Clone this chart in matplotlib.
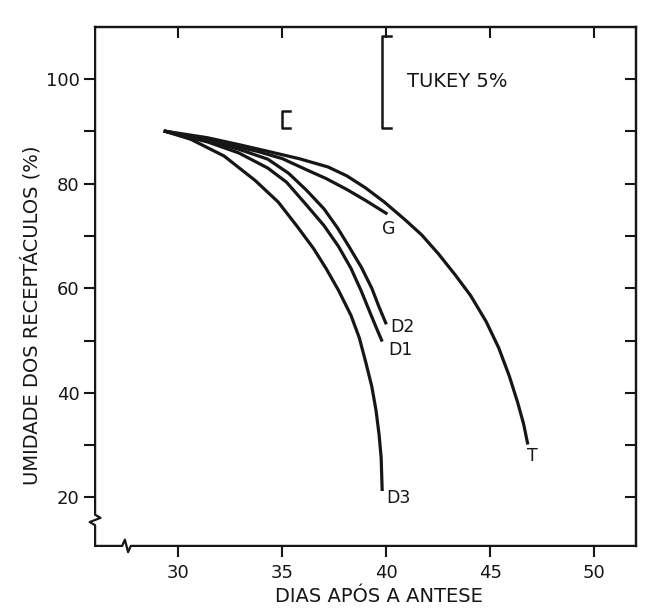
import matplotlib
matplotlib.use("Agg")
import matplotlib.pyplot as plt

# Umidade dos receptaculos (%) x dias apos a antese
d3_dias = [29.3, 30.6, 32.2, 33.7, 34.8, 35.7, 36.5, 37.1, 37.7, 38.3, 38.7, 39.0,
           39.3, 39.5, 39.65, 39.75, 39.8]
d3_umid = [90.1, 88.5, 85.3, 80.6, 76.5, 71.9, 67.6, 63.8, 59.6, 54.8, 50.5, 46.0,
           41.2, 36.7, 32.0, 27.6, 21.2]

d1_dias = [29.3, 31.4, 32.9, 34.3, 35.2, 36.1, 37.0, 37.7, 38.3, 38.8, 39.2, 39.5, 39.8]
d1_umid = [90.1, 88.0, 85.9, 83.0, 80.3, 76.2, 72.0, 68.0, 63.8, 59.4, 55.5, 52.6, 49.8]

d2_dias = [29.3, 31.4, 32.9, 34.3, 35.3, 36.15, 37.0, 37.66, 38.2, 38.8, 39.3, 39.65, 40.0]
d2_umid = [90.1, 88.2, 86.6, 84.7, 82.0, 78.8, 75.2, 71.5, 68.0, 64.0, 60.0, 56.4, 53.1]

g_dias = [29.3, 30.6, 32.2, 33.8, 35.0, 36.2, 37.1, 38.1, 39.0, 40.05]
g_umid = [90.1, 89.1, 87.6, 86.2, 84.8, 82.6, 81.0, 78.9, 76.8, 74.2]

t_dias = [29.3, 31.4, 33.0, 34.3, 35.8, 37.2, 38.1, 39.0, 39.9, 40.9, 41.7, 42.5,
          43.3, 44.05, 44.8, 45.4, 45.9, 46.3, 46.6, 46.8]
t_umid = [90.1, 88.8, 87.4, 86.2, 84.8, 83.2, 81.5, 79.2, 76.5, 73.1, 70.2, 66.6,
          62.6, 58.6, 53.6, 48.6, 43.3, 38.3, 34.0, 30.1]

curvas = [("D3", d3_dias, d3_umid), ("D1", d1_dias, d1_umid),
          ("D2", d2_dias, d2_umid), ("G", g_dias, g_umid), ("T", t_dias, t_umid)]

# posicao dos rotulos das curvas
rotulos = {"G": (40.1, 71.3, "center"), "D2": (40.2, 52.5, "left"),
           "D1": (40.1, 48.1, "left"), "D3": (40.0, 19.8, "left"),
           "T": (47.0, 27.9, "center")}

tukey_dia, tukey_ini, tukey_fim = 39.8, 90.6, 108.3
dms_dia, dms_ini, dms_fim = 35.0, 90.6, 93.9

fig = plt.figure(figsize=(6.47, 6.12), dpi=100)
ax = fig.add_axes([0.147, 0.108, 0.836, 0.848])
cor = "#161616"

for nome, dias, umid in curvas:
    ax.plot(dias, umid, color=cor, lw=2.3, solid_capstyle="butt", solid_joinstyle="round")
    x, y, ha = rotulos[nome]
    ax.text(x, y, nome, ha=ha, va="center", fontsize=12.5, color=cor)

# barras de Tukey
for dia, ini, fim, s in [(tukey_dia, tukey_ini, tukey_fim, 0.4), (dms_dia, dms_ini, dms_fim, 0.35)]:
    ax.plot([dia + s, dia, dia, dia + s], [fim, fim, ini, ini], color=cor, lw=1.8)
ax.text(41.0, 99.6, "TUKEY 5%", ha="left", va="center", fontsize=14, color=cor)

ax.set_xlim(26.0, 52.0)
ax.set_ylim(10.7, 110)
ax.set_xticks([30, 35, 40, 45, 50])
ax.set_yticks([20, 40, 60, 80, 100])
ax.set_yticks([30, 50, 70, 90], minor=True)
ax.tick_params(which="both", direction="out", length=8, width=1.5, labelsize=13, colors=cor)
ax.tick_params(axis="y", pad=3)
ax.tick_params(axis="x", pad=5)

topo = ax.secondary_xaxis("top")
topo.set_xticks([30, 35, 40, 45, 50])
topo.tick_params(direction="in", length=8, width=1.5, labeltop=False, colors=cor)
direita = ax.secondary_yaxis("right")
direita.set_yticks(list(range(20, 101, 10)))
direita.tick_params(direction="in", length=8, width=1.5, labelright=False, colors=cor)
for a in (ax, topo, direita):
    for sp in a.spines.values():
        sp.set_linewidth(1.6)
        sp.set_color(cor)

# eixos esquerdo e inferior com quebra
ax.spines["left"].set_visible(False)
ax.spines["bottom"].set_visible(False)
ax.plot([0, 0, 0.010, -0.010, 0, 0], [1, 0.060, 0.054, 0.046, 0.040, 0],
        transform=ax.transAxes, clip_on=False, color=cor, lw=1.6)
ax.plot([0, 0.050, 0.055, 0.061, 0.066, 1], [0, 0, 0.012, -0.012, 0, 0],
        transform=ax.transAxes, clip_on=False, color=cor, lw=1.6)

ax.set_xlabel("DIAS APÓS A ANTESE", fontsize=14, color=cor)
ax.set_ylabel("UMIDADE DOS RECEPTÁCULOS (%)", fontsize=14, color=cor)
ax.xaxis.set_label_coords(0.525, -0.080)
ax.yaxis.set_label_coords(-0.100, 0.445)

fig.savefig("out.png", dpi=100)
